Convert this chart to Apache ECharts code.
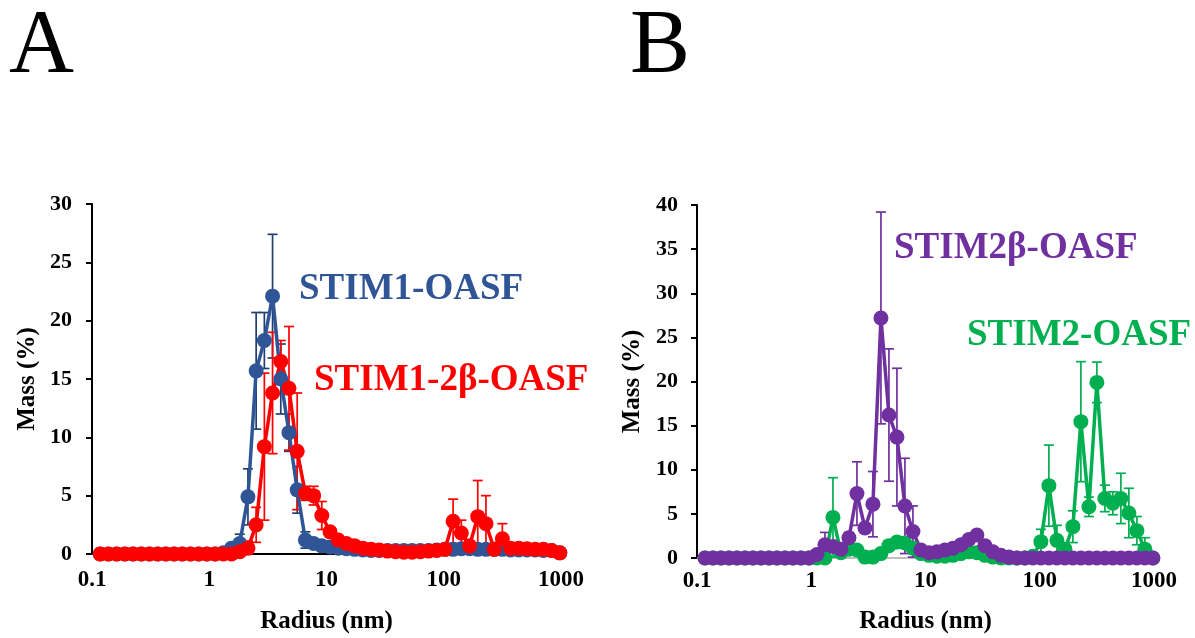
<!DOCTYPE html>
<html>
<head>
<meta charset="utf-8">
<script src="https://cdn.jsdelivr.net/npm/echarts@6/dist/echarts.min.js"></script>
<style>
  html, body { margin: 0; padding: 0; background: #fff; }
  #chart { width: 1195px; height: 638px; }
</style>
</head>
<body>
<div id="chart"></div>
<script>
// Hydrodynamic radius bins (nm), log spaced
const radius = [0.1175, 0.138, 0.1622, 0.1905, 0.2239, 0.263, 0.309, 0.3631, 0.4266, 0.5012,
  0.5888, 0.6918, 0.8128, 0.955, 1.122, 1.318, 1.549, 1.82, 2.138, 2.512,
  2.951, 3.467, 4.074, 4.786, 5.623, 6.607, 7.762, 9.12, 10.72, 12.59,
  14.79, 17.38, 20.42, 23.99, 28.18, 33.11, 38.9, 45.71, 53.7, 63.1,
  74.13, 87.1, 102.3, 120.2, 141.3, 166, 195, 229.1, 269.2, 316.2,
  371.5, 436.5, 512.9, 602.6, 707.9, 831.8, 977.2];

// Panel A: STIM1-OASF (mass %, SD)
const stim1 = [0,0,0,0,0,0,0,0,0,0,0,0,0,0,0,
  0.1,0.5,0.9,4.9,15.7,18.3,22.1,15.0,10.4,5.5,
  1.2,0.9,0.7,0.6,0.5,0.45,0.4,0.35,0.3,0.3,
  0.3,0.3,0.3,0.3,0.3,0.3,0.35,0.4,0.4,0.45,
  0.45,0.4,0.4,0.4,0.4,0.35,0.35,0.35,0.35,0.3,
  0.3,0.1];
const stim1Err = [0,0,0,0,0,0,0,0,0,0,0,0,0,0,0,
  0,0.3,0.8,2.4,5.0,2.4,5.3,3.0,1.6,2.0,
  0.7,0.3,0,0,0,0,0,0,0,0,
  0,0,0,0,0,0,0,0,0,0,
  0,0,0,0,0,0,0,0,0,0,
  0,0];

// Panel A: STIM1-2β-OASF
const stim12b = [0,0,0,0,0,0,0,0,0,0,0,0,0,0,0,
  0,0,0.2,0.5,2.5,9.2,13.8,16.5,14.2,8.8,
  5.2,5.0,3.3,1.9,1.2,0.9,0.7,0.5,0.4,0.35,
  0.25,0.2,0.15,0.15,0.2,0.25,0.3,0.4,2.8,1.8,
  0.7,3.2,2.6,0.4,1.3,0.5,0.5,0.45,0.4,0.4,
  0.3,0.1];
const stim12bErr = [0,0,0,0,0,0,0,0,0,0,0,0,0,0,0,
  0,0,0,0.6,1.5,6.3,5.2,1.8,5.3,5.0,
  0.6,0.8,1.2,0.4,0,0,0,0,0,0,
  0,0,0,0,0,0,0,0,1.9,1.1,
  0,3.1,2.4,0,1.3,0,0,0,0,0,
  0,0];

// Panel B: STIM2β-OASF
const stim2b = [0,0,0,0,0,0,0,0,0,0,0,0,0,0,0.4,
  1.5,1.3,1.0,2.3,7.3,3.4,6.1,27.2,16.2,13.7,
  5.9,3.0,0.9,0.6,0.7,0.9,1.1,1.5,2.1,2.6,
  1.4,0.7,0.3,0.1,0,0,0,0,0,0,
  0,0,0,0,0,0,0,0,0,0,
  0,0];
const stim2bErr = [0,0,0,0,0,0,0,0,0,0,0,0,0,0,0,
  1.4,0.3,0,0.6,3.6,0.5,3.7,12.0,7.5,7.8,
  5.4,2.9,0,0,0,0,0,0,0,0,
  0,0,0,0,0,0,0,0,0,0,
  0,0,0,0,0,0,0,0,0,0,
  0,0];

// Panel B: STIM2-OASF
const stim2 = [0,0,0,0,0,0,0,0,0,0,0,0,0,0,0,0,
  4.6,0.6,1.0,0.9,0.1,0.1,0.5,1.4,1.8,
  1.7,1.1,0.5,0.3,0.2,0.2,0.3,0.5,0.7,0.6,
  0.3,0.1,0,0,0,0,0.2,1.85,8.2,2.0,
  1.0,3.55,15.45,5.8,19.9,6.75,6.2,6.75,5.1,3.1,
  1.0,0];
const stim2Err = [0,0,0,0,0,0,0,0,0,0,0,0,0,0,0,0,
  4.5,0,0,0,0,0,0,0,0.3,
  0.3,0,0,0,0,0,0,0,0,0,
  0,0,0,0,0,0,0,1.4,4.6,1.7,
  0.5,1.8,6.8,1.1,2.3,1.5,1.3,2.85,2.8,1.6,
  1.3,0];

const radiusTicks = ['0.1', '1', '10', '100', '1000'];
const massTicksA = [0, 5, 10, 15, 20, 25, 30];
const massTicksB = [0, 5, 10, 15, 20, 25, 30, 35, 40];

const SERIF = '"Liberation Serif", "Times New Roman", serif';

function pairs(vals) {
  return radius.map((r, i) => [r, vals[i]]);
}
function errPairs(vals, errs) {
  const out = [];
  radius.forEach((r, i) => { if (errs[i] > 0) out.push([r, vals[i], errs[i]]); });
  return out;
}

function lineSeries(name, vals, color, idx) {
  return {
    name, type: 'line', xAxisIndex: idx, yAxisIndex: idx,
    data: pairs(vals),
    symbol: 'circle', symbolSize: 15, showAllSymbol: true,
    lineStyle: { color, width: 3.5 },
    itemStyle: { color },
    clip: false, z: 3,
    animation: false
  };
}

function errSeries(vals, errs, color, idx) {
  return {
    type: 'custom', xAxisIndex: idx, yAxisIndex: idx,
    data: errPairs(vals, errs),
    clip: false, z: 3,
    renderItem(params, api) {
      const x = api.value(0), y = api.value(1), e = api.value(2);
      const top = api.coord([x, y + e]);
      const bot = api.coord([x, Math.max(0, y - e)]);
      const cap = 5;
      const st = { stroke: color, lineWidth: 1.7 };
      return {
        type: 'group',
        children: [
          { type: 'line', shape: { x1: top[0], y1: top[1], x2: bot[0], y2: bot[1] }, style: st },
          { type: 'line', shape: { x1: top[0] - cap, y1: top[1], x2: top[0] + cap, y2: top[1] }, style: st },
          { type: 'line', shape: { x1: bot[0] - cap, y1: bot[1], x2: bot[0] + cap, y2: bot[1] }, style: st }
        ]
      };
    },
    animation: false
  };
}

function xAxis(idx, lineColor, gap, margin) {
  return {
    type: 'log', logBase: 10, min: 0.1, max: 1000, gridIndex: idx,
    axisLine: { show: true, onZero: false, lineStyle: { color: lineColor, width: 2 } },
    axisTick: { show: false },
    splitLine: { show: false },
    minorTick: { show: false },
    axisLabel: {
      margin,
      color: '#000', fontFamily: SERIF, fontWeight: 'bold', fontSize: 23,
      formatter: v => radiusTicks[Math.round(Math.log10(v)) + 1]
    },
    name: 'Radius (nm)', nameLocation: 'middle', nameGap: gap,
    nameTextStyle: { color: '#000', fontFamily: SERIF, fontWeight: 'bold', fontSize: 25 }
  };
}

function yAxis(idx, ticks, margin, gap) {
  return {
    type: 'value', gridIndex: idx,
    min: ticks[0], max: ticks[ticks.length - 1], interval: ticks[1] - ticks[0],
    axisLine: { show: true, lineStyle: { color: '#000', width: 2 } },
    axisTick: { show: true, inside: false, length: 6, lineStyle: { color: '#000', width: 2 } },
    splitLine: { show: false },
    axisLabel: { margin, color: '#000', fontFamily: SERIF, fontWeight: 'bold', fontSize: 22 },
    name: 'Mass (%)', nameLocation: 'middle', nameGap: gap, nameRotate: 90,
    nameTextStyle: { color: '#000', fontFamily: SERIF, fontWeight: 'bold', fontSize: 25 }
  };
}

function label(text, x, y, color, size, weight) {
  return {
    type: 'text', x, y, z: 10,
    style: { text, fill: color, fontFamily: SERIF, fontSize: size, fontWeight: weight,
             align: 'left', verticalAlign: 'middle' }
  };
}

const chart = echarts.init(document.getElementById('chart'), null, { renderer: 'canvas' });
chart.setOption({
  backgroundColor: '#fff',
  animation: false,
  grid: [
    { left: 92, top: 204, width: 469, height: 350, outerBoundsMode: 'none', containLabel: false },
    { left: 697, top: 205, width: 457, height: 353, outerBoundsMode: 'none', containLabel: false }
  ],
  xAxis: [xAxis(0, '#000', 55, 15), xAxis(1, '#BFBFBF', 51, 12)],
  yAxis: [yAxis(0, massTicksA, 20, 52), yAxis(1, massTicksB, 19, 52)],
  series: [
    errSeries(stim1, stim1Err, '#22406F', 0),
    lineSeries('STIM1-OASF', stim1, '#2F5597', 0),
    errSeries(stim12b, stim12bErr, '#FF0000', 0),
    lineSeries('STIM1-2β-OASF', stim12b, '#FF0000', 0),
    errSeries(stim2, stim2Err, '#00B050', 1),
    lineSeries('STIM2-OASF', stim2, '#00B050', 1),
    errSeries(stim2b, stim2bErr, '#7030A0', 1),
    lineSeries('STIM2β-OASF', stim2b, '#7030A0', 1)
  ],
  graphic: [
    label('A', 9, 48, '#000', 90, 'normal'),
    label('B', 630, 48, '#000', 90, 'normal'),
    label('STIM1-OASF', 299, 289, '#2F5597', 37, 'bold'),
    label('STIM1-2β-OASF', 314, 380, '#FF0000', 37, 'bold'),
    label('STIM2β-OASF', 894, 248, '#7030A0', 37, 'bold'),
    label('STIM2-OASF', 967, 335, '#00B050', 37, 'bold')
  ]
});
</script>
</body>
</html>
